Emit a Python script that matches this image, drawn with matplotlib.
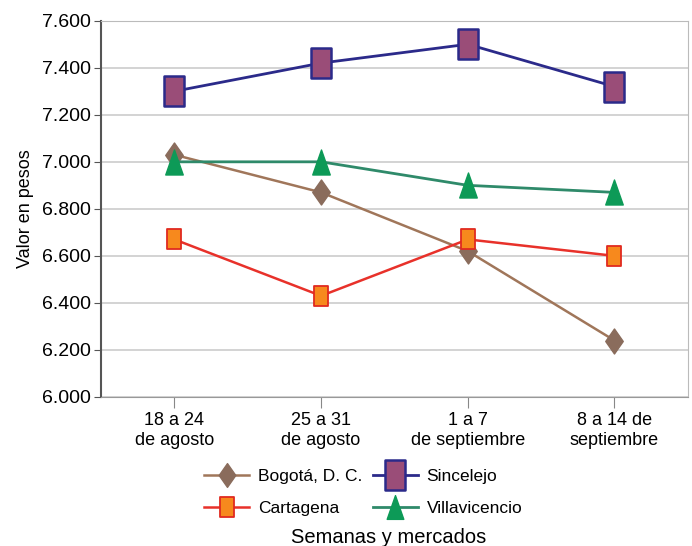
import numpy as np
import matplotlib.pyplot as plt
from matplotlib.ticker import FuncFormatter
from matplotlib.path import Path

plt.rcParams['font.family'] = ['Liberation Sans', 'DejaVu Sans']

# -----------------------------
# Datos
# -----------------------------
semanas = ["18 a 24\nde agosto", "25 a 31\nde agosto", "1 a 7\nde septiembre", "8 a 14 de\nseptiembre"]
bogota = [7030, 6870, 6620, 6240]
sincelejo = [7300, 7420, 7500, 7320]
cartagena = [6670, 6430, 6670, 6600]
villavicencio = [7000, 7000, 6900, 6870]


def rectangulo(r):
    return Path([(-r, -1), (r, -1), (r, 1), (-r, 1), (-r, -1)],
                [Path.MOVETO, Path.LINETO, Path.LINETO, Path.LINETO, Path.CLOSEPOLY])


rombo = Path([(0, -1), (0.7, 0), (0, 1), (-0.7, 0), (0, -1)],
             [Path.MOVETO, Path.LINETO, Path.LINETO, Path.LINETO, Path.CLOSEPOLY])
triangulo = Path([(0, 1), (0.7, -1), (-0.7, -1), (0, 1)],
                 [Path.MOVETO, Path.LINETO, Path.LINETO, Path.CLOSEPOLY])

fig = plt.figure(figsize=(6.92, 5.46), dpi=100)
ax = fig.add_axes([0.146, 0.273, 0.848, 0.689])
x = np.arange(len(semanas))

ax.plot(x, bogota, color="#a0765a", lw=1.8, marker=rombo, ms=18,
        mfc="#8a6c5c", mec="#8a6c5c", label="Bogotá, D. C.", zorder=3)
ax.plot(x, cartagena, color="#e8312a", lw=1.8, marker=rectangulo(0.68), ms=15,
        mfc="#f7891d", mec="#e02a20", mew=1.3, label="Cartagena", zorder=3)
ax.plot(x, sincelejo, color="#2b2a8a", lw=2, marker=rectangulo(0.66), ms=22,
        mfc="#9a4d78", mec="#2b2a8a", mew=1.8, label="Sincelejo", zorder=3)
ax.plot(x, villavicencio, color="#2f8a6a", lw=2, marker=triangulo, ms=18,
        mfc="#0d9a57", mec="#0d9a57", label="Villavicencio", zorder=3)

ax.set_xlim(-0.5, 3.5)
ax.set_ylim(6000, 7600)
ax.set_yticks(np.arange(6000, 7601, 200))
ax.yaxis.set_major_formatter(FuncFormatter(lambda v, p: f"{v/1000:.3f}"))
ax.set_xticks(x)
ax.set_xticklabels(semanas, fontsize=13)
ax.tick_params(axis="y", labelsize=14, length=5, color="#555555", pad=2)
ax.tick_params(axis="x", length=8, color="#888888", pad=3)
ax.grid(axis="y", color="#cccccc", lw=1.2)
ax.set_axisbelow(True)
for s in ["top", "right"]:
    ax.spines[s].set_color("#bbbbbb")
ax.spines["left"].set_color("#555555")
ax.spines["left"].set_linewidth(1.5)
ax.spines["bottom"].set_color("#999999")
ax.set_ylabel("Valor en pesos", fontsize=13, labelpad=6)

handles, labels = ax.get_legend_handles_labels()
fig.legend(handles, labels, ncol=2, loc="center", bbox_to_anchor=(0.525, 0.098),
           frameon=False, fontsize=12.5, handlelength=2.6, columnspacing=0.6,
           handletextpad=0.5, labelspacing=1.0, markerscale=0.95)
fig.text(0.561, -0.002, "Semanas y mercados", ha="center", va="bottom", fontsize=14.5)

plt.savefig("out.png", dpi=100)
